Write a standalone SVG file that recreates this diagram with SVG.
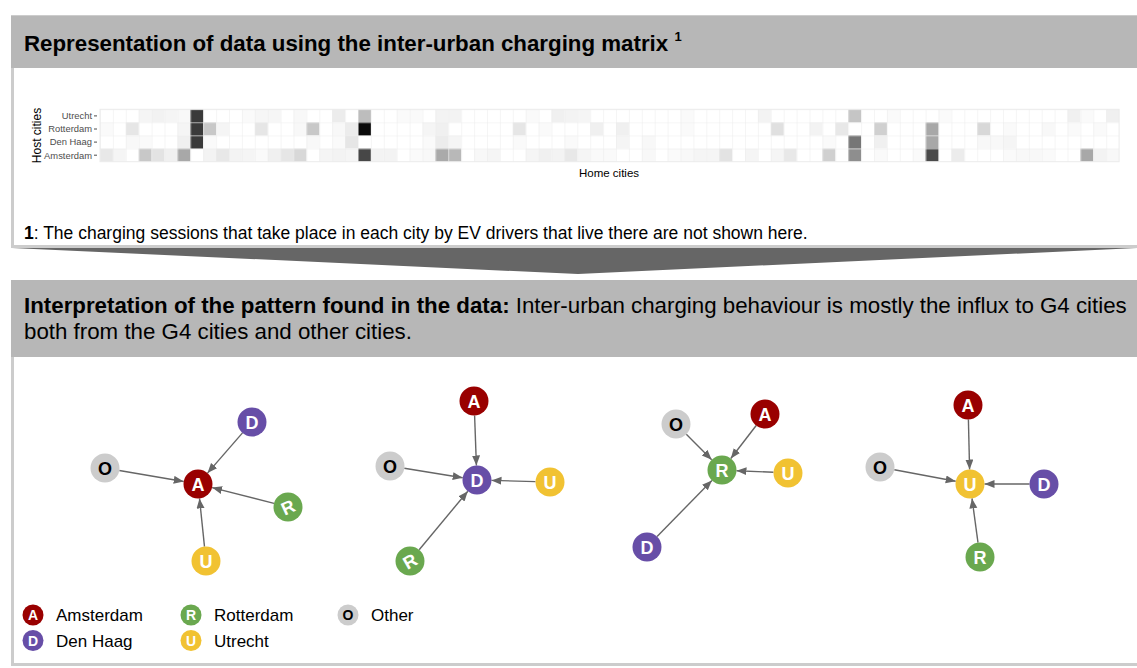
<svg xmlns="http://www.w3.org/2000/svg" width="1137" height="668" viewBox="0 0 1137 668">
  <style>
    .sans { font-family: "Liberation Sans", Arial, sans-serif; }
    .panel { fill: #ffffff; stroke: #cccccc; stroke-width: 3; }
    .head { fill: #b7b7b7; }
    .tick { font-family: "Liberation Sans", Arial, sans-serif; font-size: 9.4px; fill: #4d4d4d; text-anchor: end; }
    .edge { stroke: #666666; stroke-width: 1.4; fill: none; marker-end: url(#arrow); }
    .lbl { font-family: "Liberation Sans", Arial, sans-serif; font-weight: bold; font-size: 18px; fill: #ffffff; text-anchor: middle; }
    .lbl.dark { fill: #000000; }
    .leg { font-family: "Liberation Sans", Arial, sans-serif; font-size: 17px; fill: #000000; }
    .legl { font-family: "Liberation Sans", Arial, sans-serif; font-weight: bold; font-size: 14px; fill: #ffffff; text-anchor: middle; }
    .cA { fill: #990000; }
    .cD { fill: #674ea7; }
    .cR { fill: #6aa84f; }
    .cU { fill: #f1c232; }
    .cO { fill: #cccccc; }
  </style>
  <defs>
    <marker id="arrow" markerUnits="userSpaceOnUse" markerWidth="11" markerHeight="9" refX="10" refY="4" orient="auto">
      <path d="M0,0 L10,4 L0,8 z" fill="#666666"/>
    </marker>
    <pattern id="grid" patternUnits="userSpaceOnUse" x="100" y="109.3" width="12.9" height="13.1">
      <path d="M0 0H12.9M0 0V13.1" stroke="#ebebeb" stroke-width="1" fill="none"/>
    </pattern>
  </defs>

  <rect width="1137" height="668" fill="#ffffff"/>

  <!-- upper panel: charging matrix -->
  <g id="matrix-panel">
    <rect class="panel" x="12.5" y="16.5" width="1126" height="230"/>
    <rect class="head" x="11" y="16" width="1126" height="52"/>
    <text class="sans" x="24" y="51" font-size="22.3" font-weight="bold" fill="#000">Representation of data using the inter-urban charging matrix <tspan font-size="13" dy="-10">1</tspan></text>

    <!-- heatmap cells (column = home city, row = host city) -->
    <g id="heatmap">
      <rect x="100" y="109.3" width="1019.1" height="52.4" fill="#ffffff"/>
      <g transform="translate(100,109.3) scale(12.9,13.1)">
        <!-- Utrecht -->
        <rect x="3" y="0" width="1" height="1" fill="#f5f5f5"/>
        <rect x="4" y="0" width="1" height="1" fill="#f2f2f2"/>
        <rect x="5" y="0" width="1" height="1" fill="#f5f5f5"/>
        <rect x="6" y="0" width="1" height="1" fill="#f8f8f8"/>
        <rect x="7" y="0" width="1" height="1" fill="#3a3a3a"/>
        <rect x="11" y="0" width="1" height="1" fill="#fafafa"/>
        <rect x="12" y="0" width="1" height="1" fill="#f6f6f6"/>
        <rect x="13" y="0" width="1" height="1" fill="#f6f6f6"/>
        <rect x="15" y="0" width="1" height="1" fill="#f8f8f8"/>
        <rect x="18" y="0" width="1" height="1" fill="#ececec"/>
        <rect x="20" y="0" width="1" height="1" fill="#bdbdbd"/>
        <rect x="23" y="0" width="1" height="1" fill="#fafafa"/>
        <rect x="24" y="0" width="1" height="1" fill="#fafafa"/>
        <rect x="26" y="0" width="1" height="1" fill="#f3f3f3"/>
        <rect x="27" y="0" width="1" height="1" fill="#f3f3f3"/>
        <rect x="33" y="0" width="1" height="1" fill="#fafafa"/>
        <rect x="35" y="0" width="1" height="1" fill="#f0f0f0"/>
        <rect x="36" y="0" width="1" height="1" fill="#f3f3f3"/>
        <rect x="37" y="0" width="1" height="1" fill="#f5f5f5"/>
        <rect x="45" y="0" width="1" height="1" fill="#fafafa"/>
        <rect x="51" y="0" width="1" height="1" fill="#f3f3f3"/>
        <rect x="58" y="0" width="1" height="1" fill="#c5c5c5"/>
        <rect x="61" y="0" width="1" height="1" fill="#fafafa"/>
        <rect x="65" y="0" width="1" height="1" fill="#fafafa"/>
        <rect x="75" y="0" width="1" height="1" fill="#f0f0f0"/>
        <rect x="76" y="0" width="1" height="1" fill="#fafafa"/>
        <rect x="78" y="0" width="1" height="1" fill="#f0f0f0"/>
        <!-- Rotterdam -->
        <rect x="0" y="1" width="1" height="1" fill="#fafafa"/>
        <rect x="2" y="1" width="1" height="1" fill="#e6e6e6"/>
        <rect x="6" y="1" width="1" height="1" fill="#f5f5f5"/>
        <rect x="7" y="1" width="1" height="1" fill="#3a3a3a"/>
        <rect x="8" y="1" width="1" height="1" fill="#c8c8c8"/>
        <rect x="9" y="1" width="1" height="1" fill="#f5f5f5"/>
        <rect x="12" y="1" width="1" height="1" fill="#e6e6e6"/>
        <rect x="15" y="1" width="1" height="1" fill="#f8f8f8"/>
        <rect x="16" y="1" width="1" height="1" fill="#c8c8c8"/>
        <rect x="18" y="1" width="1" height="1" fill="#f8f8f8"/>
        <rect x="19" y="1" width="1" height="1" fill="#ececec"/>
        <rect x="20" y="1" width="1" height="1" fill="#0a0a0a"/>
        <rect x="25" y="1" width="1" height="1" fill="#f5f5f5"/>
        <rect x="26" y="1" width="1" height="1" fill="#f0f0f0"/>
        <rect x="32" y="1" width="1" height="1" fill="#e6e6e6"/>
        <rect x="34" y="1" width="1" height="1" fill="#fafafa"/>
        <rect x="38" y="1" width="1" height="1" fill="#f0f0f0"/>
        <rect x="40" y="1" width="1" height="1" fill="#f0f0f0"/>
        <rect x="45" y="1" width="1" height="1" fill="#fafafa"/>
        <rect x="52" y="1" width="1" height="1" fill="#e0e0e0"/>
        <rect x="55" y="1" width="1" height="1" fill="#f3f3f3"/>
        <rect x="57" y="1" width="1" height="1" fill="#e8e8e8"/>
        <rect x="60" y="1" width="1" height="1" fill="#d0d0d0"/>
        <rect x="64" y="1" width="1" height="1" fill="#a8a8a8"/>
        <rect x="68" y="1" width="1" height="1" fill="#d8d8d8"/>
        <rect x="70" y="1" width="1" height="1" fill="#fafafa"/>
        <rect x="73" y="1" width="1" height="1" fill="#f8f8f8"/>
        <rect x="75" y="1" width="1" height="1" fill="#fafafa"/>
        <rect x="77" y="1" width="1" height="1" fill="#fafafa"/>
        <!-- Den Haag -->
        <rect x="2" y="2" width="1" height="1" fill="#f8f8f8"/>
        <rect x="3" y="2" width="1" height="1" fill="#fafafa"/>
        <rect x="6" y="2" width="1" height="1" fill="#f0f0f0"/>
        <rect x="7" y="2" width="1" height="1" fill="#3a3a3a"/>
        <rect x="8" y="2" width="1" height="1" fill="#fafafa"/>
        <rect x="16" y="2" width="1" height="1" fill="#f8f8f8"/>
        <rect x="18" y="2" width="1" height="1" fill="#fafafa"/>
        <rect x="19" y="2" width="1" height="1" fill="#e6e6e6"/>
        <rect x="25" y="2" width="1" height="1" fill="#fafafa"/>
        <rect x="26" y="2" width="1" height="1" fill="#ececec"/>
        <rect x="27" y="2" width="1" height="1" fill="#f5f5f5"/>
        <rect x="32" y="2" width="1" height="1" fill="#fafafa"/>
        <rect x="36" y="2" width="1" height="1" fill="#fafafa"/>
        <rect x="40" y="2" width="1" height="1" fill="#f5f5f5"/>
        <rect x="42" y="2" width="1" height="1" fill="#f8f8f8"/>
        <rect x="56" y="2" width="1" height="1" fill="#fafafa"/>
        <rect x="58" y="2" width="1" height="1" fill="#767676"/>
        <rect x="60" y="2" width="1" height="1" fill="#f0f0f0"/>
        <rect x="64" y="2" width="1" height="1" fill="#a8a8a8"/>
        <rect x="68" y="2" width="1" height="1" fill="#f8f8f8"/>
        <rect x="69" y="2" width="1" height="1" fill="#f8f8f8"/>
        <rect x="70" y="2" width="1" height="1" fill="#f5f5f5"/>
        <!-- Amsterdam -->
        <rect x="0" y="3" width="1" height="1" fill="#e8e8e8"/>
        <rect x="1" y="3" width="1" height="1" fill="#f5f5f5"/>
        <rect x="3" y="3" width="1" height="1" fill="#c8c8c8"/>
        <rect x="4" y="3" width="1" height="1" fill="#e3e3e3"/>
        <rect x="5" y="3" width="1" height="1" fill="#f0f0f0"/>
        <rect x="6" y="3" width="1" height="1" fill="#a8a8a8"/>
        <rect x="8" y="3" width="1" height="1" fill="#f3f3f3"/>
        <rect x="9" y="3" width="1" height="1" fill="#e8e8e8"/>
        <rect x="10" y="3" width="1" height="1" fill="#f3f3f3"/>
        <rect x="11" y="3" width="1" height="1" fill="#f5f5f5"/>
        <rect x="12" y="3" width="1" height="1" fill="#fafafa"/>
        <rect x="13" y="3" width="1" height="1" fill="#f0f0f0"/>
        <rect x="14" y="3" width="1" height="1" fill="#e6e6e6"/>
        <rect x="15" y="3" width="1" height="1" fill="#d8d8d8"/>
        <rect x="17" y="3" width="1" height="1" fill="#f5f5f5"/>
        <rect x="18" y="3" width="1" height="1" fill="#f3f3f3"/>
        <rect x="19" y="3" width="1" height="1" fill="#f5f5f5"/>
        <rect x="20" y="3" width="1" height="1" fill="#474747"/>
        <rect x="21" y="3" width="1" height="1" fill="#f3f3f3"/>
        <rect x="22" y="3" width="1" height="1" fill="#f3f3f3"/>
        <rect x="24" y="3" width="1" height="1" fill="#fafafa"/>
        <rect x="25" y="3" width="1" height="1" fill="#f8f8f8"/>
        <rect x="26" y="3" width="1" height="1" fill="#aaaaaa"/>
        <rect x="27" y="3" width="1" height="1" fill="#b8b8b8"/>
        <rect x="29" y="3" width="1" height="1" fill="#f8f8f8"/>
        <rect x="30" y="3" width="1" height="1" fill="#f5f5f5"/>
        <rect x="33" y="3" width="1" height="1" fill="#f5f5f5"/>
        <rect x="34" y="3" width="1" height="1" fill="#f0f0f0"/>
        <rect x="35" y="3" width="1" height="1" fill="#f3f3f3"/>
        <rect x="36" y="3" width="1" height="1" fill="#e8e8e8"/>
        <rect x="37" y="3" width="1" height="1" fill="#f5f5f5"/>
        <rect x="38" y="3" width="1" height="1" fill="#fafafa"/>
        <rect x="39" y="3" width="1" height="1" fill="#fafafa"/>
        <rect x="42" y="3" width="1" height="1" fill="#f8f8f8"/>
        <rect x="44" y="3" width="1" height="1" fill="#fafafa"/>
        <rect x="45" y="3" width="1" height="1" fill="#f8f8f8"/>
        <rect x="46" y="3" width="1" height="1" fill="#f5f5f5"/>
        <rect x="47" y="3" width="1" height="1" fill="#f5f5f5"/>
        <rect x="48" y="3" width="1" height="1" fill="#e3e3e3"/>
        <rect x="50" y="3" width="1" height="1" fill="#f5f5f5"/>
        <rect x="52" y="3" width="1" height="1" fill="#f5f5f5"/>
        <rect x="53" y="3" width="1" height="1" fill="#e8e8e8"/>
        <rect x="56" y="3" width="1" height="1" fill="#d0d0d0"/>
        <rect x="58" y="3" width="1" height="1" fill="#8e8e8e"/>
        <rect x="60" y="3" width="1" height="1" fill="#fafafa"/>
        <rect x="63" y="3" width="1" height="1" fill="#fafafa"/>
        <rect x="64" y="3" width="1" height="1" fill="#4a4a4a"/>
        <rect x="66" y="3" width="1" height="1" fill="#ececec"/>
        <rect x="70" y="3" width="1" height="1" fill="#fafafa"/>
        <rect x="71" y="3" width="1" height="1" fill="#f8f8f8"/>
        <rect x="72" y="3" width="1" height="1" fill="#f8f8f8"/>
        <rect x="73" y="3" width="1" height="1" fill="#fafafa"/>
        <rect x="76" y="3" width="1" height="1" fill="#a8a8a8"/>
        <rect x="77" y="3" width="1" height="1" fill="#f3f3f3"/>
        <rect x="78" y="3" width="1" height="1" fill="#f8f8f8"/>
      </g>
      <rect x="100" y="109.3" width="1019.1" height="52.4" fill="url(#grid)"/>
      <rect x="100" y="109.3" width="1019.1" height="52.4" fill="none" stroke="#ebebeb" stroke-width="1"/>
    </g>

    <!-- axes -->
    <g id="axes">
      <text class="tick" x="92" y="119.2">Utrecht</text>
      <text class="tick" x="92" y="132.3">Rotterdam</text>
      <text class="tick" x="92" y="145.4">Den Haag</text>
      <text class="tick" x="92" y="158.5">Amsterdam</text>
      <path d="M94 115.9H97M94 129H97M94 142.1H97M94 155.2H97" stroke="#4d4d4d" stroke-width="1"/>
      <text class="sans" x="0" y="0" font-size="12" fill="#000" text-anchor="middle" transform="translate(41,135.5) rotate(-90)">Host cities</text>
      <text class="sans" x="609" y="177" font-size="11.5" fill="#000" text-anchor="middle">Home cities</text>
    </g>

    <text class="sans" x="24" y="239" font-size="17.5" fill="#000"><tspan font-weight="bold">1</tspan>: The charging sessions that take place in each city by EV drivers that live there are not shown here.</text>
  </g>

  <!-- transition chevron -->
  <polygon id="chevron" points="12,248 1137,248 578,274" fill="#666666"/>

  <!-- lower panel: interpretation -->
  <g id="interpretation-panel">
    <rect class="panel" x="12.5" y="281.5" width="1126" height="383"/>
    <rect class="head" x="11" y="280" width="1126" height="77"/>
    <text class="sans" x="24" y="313" font-size="22.3" fill="#000"><tspan font-weight="bold">Interpretation of the pattern found in the data:</tspan> Inter-urban charging behaviour is mostly the influx to G4 cities</text>
    <text class="sans" x="24" y="339" font-size="22.3" fill="#000">both from the G4 cities and other cities.</text>
  </g>

  <!-- connectors of the four flow diagrams -->
  <g id="connectors">
    <line class="edge" x1="242.5" y1="432.9" x2="207.5" y2="473.1"/>
    <line class="edge" x1="119.3" y1="470.5" x2="183.7" y2="481.5"/>
    <line class="edge" x1="274" y1="503.4" x2="212.1" y2="487.6"/>
    <line class="edge" x1="204.5" y1="546.6" x2="199.5" y2="498.4"/>

    <line class="edge" x1="474.6" y1="415.5" x2="476.4" y2="465.5"/>
    <line class="edge" x1="404.3" y1="468.3" x2="462.7" y2="477.7"/>
    <line class="edge" x1="535.5" y1="481.6" x2="491.5" y2="480.4"/>
    <line class="edge" x1="419.2" y1="549.8" x2="467.8" y2="491.2"/>

    <line class="edge" x1="686.3" y1="434.3" x2="711.7" y2="459.7"/>
    <line class="edge" x1="756.2" y1="425.5" x2="730.8" y2="458.5"/>
    <line class="edge" x1="773.5" y1="472.3" x2="736.5" y2="470.7"/>
    <line class="edge" x1="657.1" y1="536.6" x2="711.9" y2="480.4"/>

    <line class="edge" x1="968.4" y1="419.5" x2="969.6" y2="469.5"/>
    <line class="edge" x1="894.3" y1="469.7" x2="955.7" y2="481.3"/>
    <line class="edge" x1="1029.5" y1="484" x2="984.5" y2="484"/>
    <line class="edge" x1="978" y1="542.6" x2="972" y2="498.4"/>
  </g>

  <!-- flows into Amsterdam -->
  <g id="g1-A"><circle class="cA" cx="198" cy="484" r="14.5"/><text class="lbl" x="198" y="490.5">A</text></g>
  <g id="g1-D"><circle class="cD" cx="252" cy="422" r="14.5"/><text class="lbl" x="252" y="428.5">D</text></g>
  <g id="g1-O"><circle class="cO" cx="105" cy="468" r="14.5"/><text class="lbl dark" x="105" y="474.5">O</text></g>
  <g id="g1-R"><circle class="cR" cx="288" cy="507" r="14.5"/><text class="lbl" x="288" y="513.5" transform="rotate(-25 288 507)">R</text></g>
  <g id="g1-U"><circle class="cU" cx="206" cy="561" r="14.5"/><text class="lbl" x="206" y="567.5">U</text></g>

  <!-- flows into Den Haag -->
  <g id="g2-D"><circle class="cD" cx="477" cy="480" r="14.5"/><text class="lbl" x="477" y="486.5">D</text></g>
  <g id="g2-A"><circle class="cA" cx="474" cy="401" r="14.5"/><text class="lbl" x="474" y="407.5">A</text></g>
  <g id="g2-O"><circle class="cO" cx="390" cy="466" r="14.5"/><text class="lbl dark" x="390" y="472.5">O</text></g>
  <g id="g2-U"><circle class="cU" cx="550" cy="482" r="14.5"/><text class="lbl" x="550" y="488.5">U</text></g>
  <g id="g2-R"><circle class="cR" cx="410" cy="561" r="14.5"/><text class="lbl" x="410" y="567.5" transform="rotate(-30 410 561)">R</text></g>

  <!-- flows into Rotterdam -->
  <g id="g3-R"><circle class="cR" cx="722" cy="470" r="14.5"/><text class="lbl" x="722" y="476.5">R</text></g>
  <g id="g3-O"><circle class="cO" cx="676" cy="424" r="14.5"/><text class="lbl dark" x="676" y="430.5">O</text></g>
  <g id="g3-A"><circle class="cA" cx="765" cy="414" r="14.5"/><text class="lbl" x="765" y="420.5">A</text></g>
  <g id="g3-U"><circle class="cU" cx="788" cy="473" r="14.5"/><text class="lbl" x="788" y="479.5">U</text></g>
  <g id="g3-D"><circle class="cD" cx="647" cy="547" r="14.5"/><text class="lbl" x="647" y="553.5">D</text></g>

  <!-- flows into Utrecht -->
  <g id="g4-U"><circle class="cU" cx="970" cy="484" r="14.5"/><text class="lbl" x="970" y="490.5">U</text></g>
  <g id="g4-A"><circle class="cA" cx="968" cy="405" r="14.5"/><text class="lbl" x="968" y="411.5">A</text></g>
  <g id="g4-O"><circle class="cO" cx="880" cy="467" r="14.5"/><text class="lbl dark" x="880" y="473.5">O</text></g>
  <g id="g4-D"><circle class="cD" cx="1044" cy="484" r="14.5"/><text class="lbl" x="1044" y="490.5">D</text></g>
  <g id="g4-R"><circle class="cR" cx="980" cy="557" r="14.5"/><text class="lbl" x="980" y="563.5">R</text></g>

  <!-- legend -->
  <g id="legend">
    <circle class="cA" cx="33" cy="615" r="10.5"/><text class="legl" x="33" y="620">A</text>
    <text class="leg" x="56" y="621">Amsterdam</text>
    <circle class="cD" cx="33" cy="640.5" r="10.5"/><text class="legl" x="33" y="645.5">D</text>
    <text class="leg" x="56" y="646.5">Den Haag</text>
    <circle class="cR" cx="191" cy="615" r="10.5"/><text class="legl" x="191" y="620">R</text>
    <text class="leg" x="214" y="621">Rotterdam</text>
    <circle class="cU" cx="191" cy="640.5" r="10.5"/><text class="legl" x="191" y="645.5">U</text>
    <text class="leg" x="214" y="646.5">Utrecht</text>
    <circle class="cO" cx="348" cy="615" r="10.5"/><text class="legl" x="348" y="620" style="fill:#000">O</text>
    <text class="leg" x="371" y="621">Other</text>
  </g>
</svg>
